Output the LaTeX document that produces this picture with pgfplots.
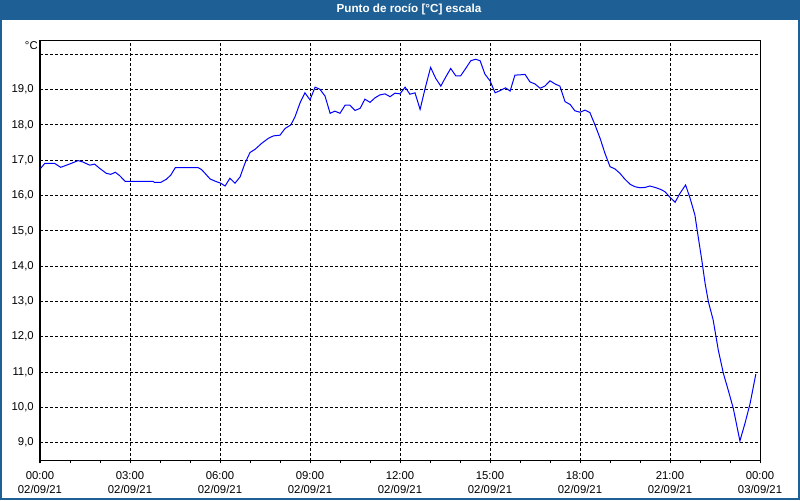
\documentclass[border=0pt]{standalone}
\usepackage{fontspec}
\setmainfont{Liberation Sans}
\usepackage{pgfplots}
\pgfplotsset{compat=1.18}

\definecolor{barblue}{RGB}{30,96,150}
\definecolor{lineblue}{RGB}{0,0,255}

\begin{document}
\begin{tikzpicture}
  % canvas, 800x500 px at 0.75pt per px
  \fill[white] (0,0) rectangle (600pt,375pt);
  \fill[barblue] (0,360pt) rectangle (600pt,375pt);
  \draw[barblue, line width=1.2pt] (0.6pt,0.6pt) rectangle (599.4pt,374.4pt);
  \node[white, font=\fontsize{8.75}{10}\selectfont\bfseries] at (306.75pt,367.6pt) {Punto de rocío [°C] escala};

  \begin{axis}[
    at={(30pt,29.625pt)}, anchor=south west,
    scale only axis, width=540pt, height=315.4pt,
    xmin=0, xmax=24, ymin=8.493, ymax=20.405,
    axis line style={black, line width=0.75pt},
    xtick={0,3,...,24},
    minor xtick={0,1,...,24},
    xticklabels={{00:00\\02/09/21},{03:00\\02/09/21},{06:00\\02/09/21},{09:00\\02/09/21},{12:00\\02/09/21},{15:00\\02/09/21},{18:00\\02/09/21},{21:00\\02/09/21},{00:00\\03/09/21}},
    xticklabel style={align=center, inner sep=0pt, yshift=-6.5pt,
      font=\fontsize{8.5}{10.5}\selectfont},
    ytick={9,10,...,20},
    yticklabels={9{,}0,10{,}0,11{,}0,12{,}0,13{,}0,14{,}0,15{,}0,16{,}0,17{,}0,18{,}0,19{,}0,},
    yticklabel style={inner sep=0pt, xshift=-2.6pt, font=\fontsize{8.5}{10}\selectfont},
    xtick pos=bottom, ytick pos=left,
    tick align=outside,
    major tick length=1.9pt, minor tick length=1.9pt,
    xtick style={black, line width=0.75pt},
    ytick style={draw=none},
    xmajorgrids, ymajorgrids,
    major grid style={black, line width=0.75pt, dash pattern=on 2.25pt off 1.5pt},
  ]
    \addplot[lineblue, line width=0.75pt, mark=none] coordinates {
      (0.02,16.77) (0.16,16.91) (0.49,16.91) (0.69,16.80) (0.82,16.84)
      (1.04,16.91) (1.27,16.99) (1.43,16.95) (1.66,16.86) (1.82,16.89)
      (1.99,16.77) (2.21,16.63) (2.36,16.60) (2.51,16.66) (2.66,16.56)
      (2.84,16.40) (3.77,16.40) (3.82,16.37) (4.02,16.37) (4.21,16.46)
      (4.36,16.58) (4.51,16.79) (5.27,16.79) (5.38,16.74) (5.50,16.63)
      (5.67,16.47) (5.83,16.41) (6.02,16.35) (6.17,16.27) (6.33,16.49)
      (6.50,16.35) (6.67,16.53) (6.83,16.91) (7.00,17.22) (7.17,17.31)
      (7.39,17.48) (7.61,17.62) (7.78,17.69) (8.00,17.71) (8.17,17.90)
      (8.36,18.00) (8.50,18.23) (8.67,18.63) (8.83,18.91) (9.00,18.71)
      (9.17,19.07) (9.33,19.01) (9.50,18.82) (9.67,18.33) (9.83,18.39)
      (10.00,18.33) (10.17,18.56) (10.33,18.56) (10.50,18.41) (10.67,18.47)
      (10.83,18.73) (11.00,18.64) (11.17,18.77) (11.33,18.85) (11.50,18.88)
      (11.67,18.80) (11.83,18.90) (12.00,18.88) (12.17,19.07) (12.33,18.87)
      (12.50,18.91) (12.67,18.44) (12.83,19.01) (13.02,19.63) (13.19,19.32)
      (13.36,19.10) (13.52,19.35) (13.69,19.60) (13.86,19.39) (14.02,19.39)
      (14.19,19.60) (14.36,19.82) (14.52,19.86) (14.67,19.82) (14.83,19.44)
      (15.00,19.25) (15.17,18.91) (15.33,18.97) (15.52,19.05) (15.67,18.96)
      (15.83,19.41) (16.17,19.43) (16.33,19.22) (16.50,19.16) (16.67,19.04)
      (16.83,19.10) (17.00,19.25) (17.17,19.16) (17.33,19.10) (17.50,18.66)
      (17.67,18.58) (17.83,18.40) (18.00,18.36) (18.17,18.42) (18.33,18.35)
      (18.50,18.00) (18.67,17.62) (18.83,17.20) (19.00,16.82) (19.17,16.75)
      (19.33,16.63) (19.50,16.46) (19.67,16.32) (19.83,16.25) (20.00,16.22)
      (20.17,16.23) (20.33,16.27) (20.50,16.23) (20.67,16.18) (20.83,16.11)
      (21.00,15.95) (21.17,15.81) (21.33,16.06) (21.52,16.30) (21.67,15.92)
      (21.83,15.45) (21.94,14.83) (22.06,14.17) (22.17,13.51) (22.28,12.99)
      (22.44,12.47) (22.61,11.62) (22.78,10.96) (22.94,10.49) (23.11,9.97)
      (23.33,9.05) (23.50,9.55) (23.67,10.11) (23.86,10.94)
    };
  \end{axis}

  \node[font=\fontsize{8.5}{10}\selectfont] at (23.5pt,340.5pt) {°C};
\end{tikzpicture}
\end{document}
